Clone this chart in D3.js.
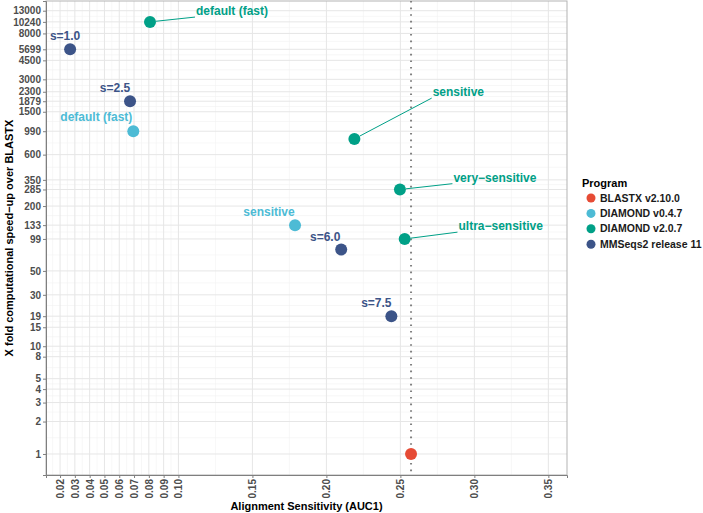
<!DOCTYPE html>
<html><head><meta charset="utf-8">
<script src="https://cdn.jsdelivr.net/npm/d3@7"></script>
<style>
body{margin:0;background:#fff;}
text{font-family:"Liberation Sans",Arial,Helvetica,sans-serif;}
</style></head>
<body>
<svg id="c" width="703" height="513"></svg>
<script>
// ---- data ----
const programs = ["BLASTX v2.10.0","DIAMOND v0.4.7","DIAMOND v2.0.7","MMSeqs2 release 11"];
const colors = ["#E64B35","#4DBBD5","#00A087","#3C5488"];
const pointProgram = ["BLASTX v2.10.0","DIAMOND v0.4.7","DIAMOND v0.4.7","DIAMOND v2.0.7","DIAMOND v2.0.7","DIAMOND v2.0.7","DIAMOND v2.0.7","MMSeqs2 release 11","MMSeqs2 release 11","MMSeqs2 release 11","MMSeqs2 release 11"];
const pointLabel = ["","default (fast)","sensitive","default (fast)","sensitive","very\u2212sensitive","ultra\u2212sensitive","s=1.0","s=2.5","s=6.0","s=7.5"];
const sensitivity = [0.2572,0.0695,0.1788,0.0808,0.2189,0.2497,0.2529,0.0268,0.0673,0.2100,0.2439];
const speedup = [1,990,133,10240,840,285,99,5699,1879,79,19];
const blastxSensitivity = 0.2572;
const xTicks = [0.02,0.03,0.04,0.05,0.06,0.07,0.08,0.09,0.10,0.15,0.20,0.25,0.30,0.35];
const yTicks = [1,2,3,4,5,8,10,15,19,30,50,99,133,200,285,350,600,990,1500,1879,2300,3000,4500,5699,8000,10240,13000];
// label placement (pixel offsets of label centre from its point, as from a repel layout)
const labelNudge = [[0,0],[-37,-14],[-26,-13],[82,-11],[104,-47],[95,-12],[96,-13],[-5,-14],[-15,-13],[-16,-13],[-15,-13]];

// ---- layout ----
const svg = d3.select("#c");
const L=46, T=1, R=567, B=475;
const x = d3.scaleLinear().domain([0.0105,0.3626]).range([L,R]);
const y = d3.scaleLog().domain([0.638,16000]).range([B,T]);
const color = d3.scaleOrdinal().domain(programs).range(colors);

// grid
const xMinor = [];
for(let i=0;i<xTicks.length-1;i++) xMinor.push((xTicks[i]+xTicks[i+1])/2);
xMinor.push(0.015);
const yMinor = [];
for(let i=0;i<yTicks.length-1;i++) yMinor.push(Math.sqrt(yTicks[i]*yTicks[i+1]));

const g = svg.append("g");
g.selectAll(".xmin").data(xMinor).join("line").attr("x1",d=>x(d)).attr("x2",d=>x(d)).attr("y1",T).attr("y2",B).attr("stroke","#f2f2f2").attr("stroke-width",0.6);
g.selectAll(".ymin").data(yMinor).join("line").attr("y1",d=>y(d)).attr("y2",d=>y(d)).attr("x1",L).attr("x2",R).attr("stroke","#f2f2f2").attr("stroke-width",0.6);
g.selectAll(".xmaj").data(xTicks).join("line").attr("x1",d=>x(d)).attr("x2",d=>x(d)).attr("y1",T).attr("y2",B).attr("stroke","#e6e6e6").attr("stroke-width",1);
g.selectAll(".ymaj").data(yTicks).join("line").attr("y1",d=>y(d)).attr("y2",d=>y(d)).attr("x1",L).attr("x2",R).attr("stroke","#e6e6e6").attr("stroke-width",1);

// panel border
svg.append("rect").attr("x",L).attr("y",T).attr("width",R-L).attr("height",B-T).attr("fill","none").attr("stroke","#b3b3b3").attr("stroke-width",1);

// axes
const xAxis = svg.append("g").attr("transform",`translate(0,${B})`)
  .call(d3.axisBottom(x).tickValues(xTicks).tickFormat(d3.format(".2f")).tickSize(3).tickPadding(2));
xAxis.select(".domain").attr("stroke","#7f7f7f");
xAxis.selectAll(".tick line").attr("stroke","#7f7f7f");
xAxis.selectAll("text").attr("transform","rotate(-90)").attr("text-anchor","end").attr("dy","0.35em").attr("x",-4).attr("y",0)
  .attr("font-size","10px").attr("font-weight","bold").attr("fill","#4d4d4d").style("font-family","'Liberation Sans',Arial,sans-serif");

const yAxis = svg.append("g").attr("transform",`translate(${L},0)`)
  .call(d3.axisLeft(y).tickValues(yTicks).tickFormat(d3.format("d")).tickSize(3).tickPadding(2));
yAxis.select(".domain").attr("stroke","#7f7f7f");
yAxis.selectAll(".tick line").attr("stroke","#7f7f7f");
yAxis.selectAll("text").attr("font-size","10px").attr("font-weight","bold").attr("fill","#4d4d4d").style("font-family","'Liberation Sans',Arial,sans-serif");

// axis titles
svg.append("text").attr("x",(L+R)/2).attr("y",510).attr("text-anchor","middle").attr("font-size","11px").attr("font-weight","bold").attr("fill","#000").text("Alignment Sensitivity (AUC1)");
svg.append("text").attr("transform",`translate(9,${(T+B)/2}) rotate(-90)`).attr("text-anchor","middle").attr("dy","0.35em").attr("font-size","11px").attr("font-weight","bold").attr("fill","#000").text("X fold computational speed\u2212up over BLASTX");

// reference line
svg.append("line").attr("x1",x(blastxSensitivity)).attr("x2",x(blastxSensitivity)).attr("y1",T).attr("y2",B)
  .attr("stroke","#808080").attr("stroke-width",2).attr("stroke-dasharray","1.6,5");

// data
const pts = sensitivity.map((s,i)=>({s, v:speedup[i], p:pointProgram[i], lab:pointLabel[i], nd:labelNudge[i]}));
const segG = svg.append("g");
const ptG = svg.append("g");
const labG = svg.append("g");

pts.forEach(d=>{
  const px=x(d.s), py=y(d.v);
  ptG.append("circle").attr("cx",px).attr("cy",py).attr("r",6).attr("fill",color(d.p));
  if(d.lab){
    const t = labG.append("text").attr("x",px+d.nd[0]).attr("y",py+d.nd[1]).attr("text-anchor","middle").attr("dy","0.35em")
      .attr("font-size","12px").attr("font-weight","bold").attr("fill",color(d.p)).text(d.lab);
    const bb = t.node().getBBox();
    const pad=1;
    const ex = Math.max(bb.x-pad, Math.min(px, bb.x+bb.width+pad));
    const ey = Math.max(bb.y+2, Math.min(py, bb.y+bb.height-1));
    const dx=ex-px, dy=ey-py, len=Math.hypot(dx,dy);
    if(len>8){
      const sx=px+dx/len*6, sy=py+dy/len*6;
      segG.append("line").attr("x1",sx).attr("y1",sy).attr("x2",ex).attr("y2",ey).attr("stroke",color(d.p)).attr("stroke-width",1);
    }
  }
});

// legend
const lg = svg.append("g");
lg.append("text").attr("x",582).attr("y",183).attr("dy","0.35em").attr("font-size","11px").attr("font-weight","bold").attr("fill","#000").text("Program");
programs.forEach((p,i)=>{
  const yy = 198 + i*15.4;
  lg.append("circle").attr("cx",591).attr("cy",yy).attr("r",4.5).attr("fill",color(p));
  lg.append("text").attr("x",600).attr("y",yy).attr("dy","0.35em").attr("font-size","10.5px").attr("font-weight","bold").attr("fill","#1a1a1a").text(p);
});
</script>
</body></html>
